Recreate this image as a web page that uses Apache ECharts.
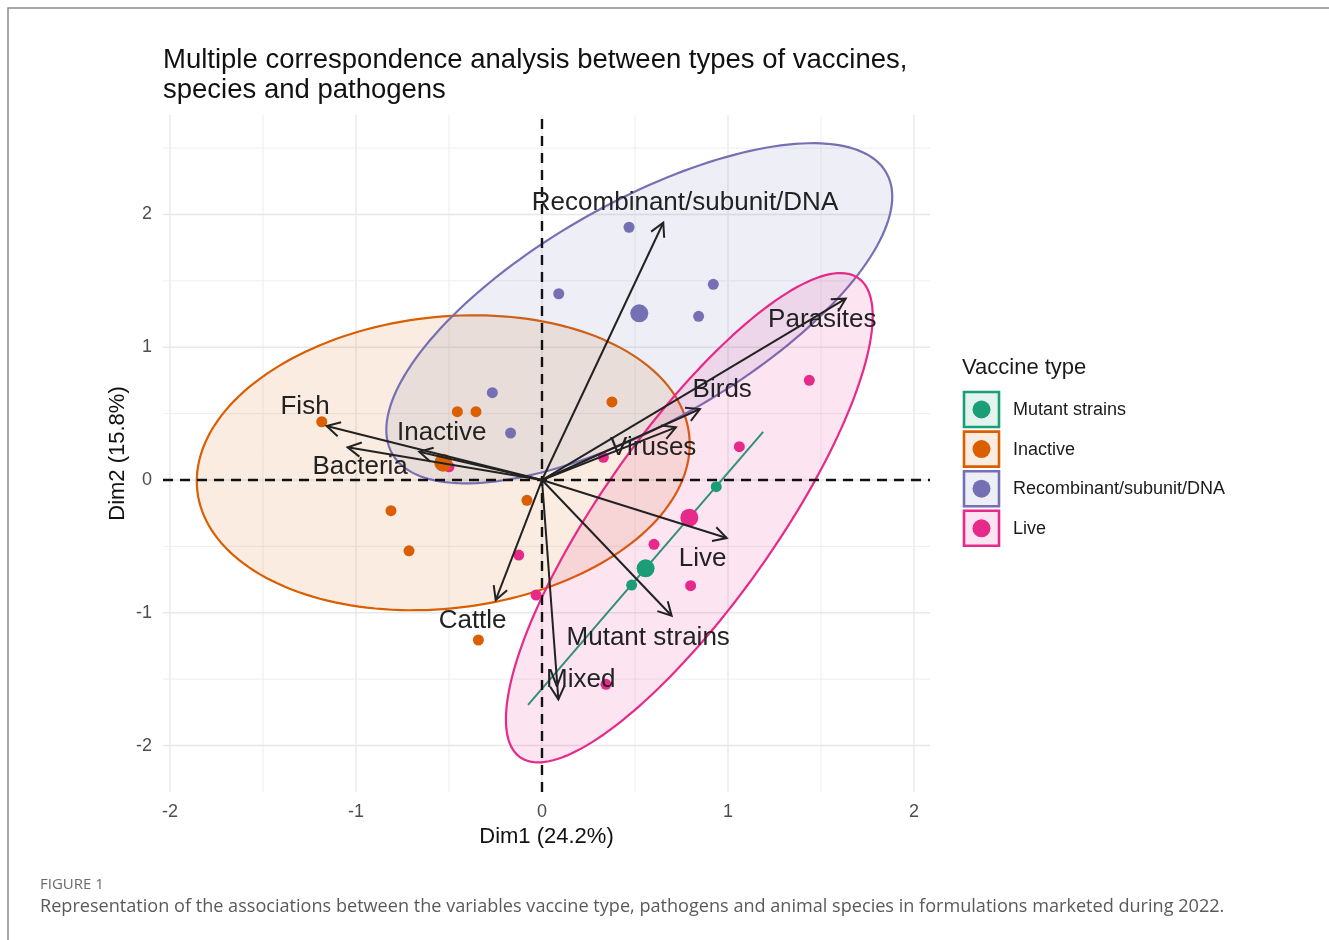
<!DOCTYPE html>
<html><head><meta charset="utf-8">
<script src="https://cdn.jsdelivr.net/npm/echarts@6/dist/echarts.min.js"></script>
<style>html,body{margin:0;padding:0;background:#fff;}#chart{width:1329px;height:940px;}</style>
</head><body><div id="chart"></div>
<script>
// ---------- data ----------
const groups = ['Mutant strains', 'Inactive', 'Recombinant/subunit/DNA', 'Live'];
const groupColors = ['#1b9e77', '#d95f02', '#7570b3', '#e7298a'];
const groupFills = ['rgba(27,158,119,0.12)', 'rgba(217,95,2,0.12)', 'rgba(117,112,179,0.12)', 'rgba(231,41,138,0.12)'];

const mutantPoints = [[0.937, -0.050], [0.482, -0.791]];
const inactivePoints = [[-1.184, 0.439], [-0.455, 0.515], [-0.355, 0.515], [0.376, 0.588], [-0.081, -0.153], [-0.812, -0.231], [-0.715, -0.533], [-0.342, -1.205]];
const recombinantPoints = [[0.468, 1.904], [0.090, 1.403], [0.921, 1.474], [0.842, 1.233], [-0.267, 0.658], [-0.169, 0.354]];
const livePoints = [[1.437, 0.751], [1.061, 0.251], [0.330, 0.171], [0.602, -0.484], [0.799, -0.796], [-0.125, -0.565], [-0.032, -0.866], [0.344, -1.539], [-0.500, 0.100]];
const groupMeans = [[0.557, -0.665], [-0.531, 0.130], [0.523, 1.256], [0.792, -0.284]];

// confidence ellipses (half extents along x / y and correlation)
const ellipseRx = [0.632, 1.325, 1.360, 0.986];
const ellipseRy = [1.028, 1.111, 1.281, 1.843];
const ellipseCorr = [1, 0.125, 0.686, 0.824];

// variable categories (arrows)
const varNames = ['Recombinant/subunit/DNA', 'Parasites', 'Birds', 'Viruses', 'Live', 'Mutant strains', 'Mixed', 'Cattle', 'Bacteria', 'Fish', 'Inactive'];
const varX = [0.652, 1.633, 0.849, 0.720, 0.993, 0.697, 0.088, -0.249, -1.045, -1.158, -0.660];
const varY = [1.938, 1.366, 0.535, 0.397, -0.437, -1.022, -1.652, -0.904, 0.246, 0.407, 0.213];
const labelX = [0.769, 1.507, 0.969, 0.598, 0.864, 0.571, 0.208, -0.373, -0.978, -1.274, -0.539];
const labelY = [2.087, 1.205, 0.678, 0.239, -0.595, -1.192, -1.507, -1.060, 0.096, 0.550, 0.356];

const xTicks = [-2, -1, 0, 1, 2];
const yTicks = [-2, -1, 0, 1, 2];
const xMinor = [-1.5, -0.5, 0.5, 1.5];
const yMinor = [-1.5, -0.5, 0.5, 1.5, 2.5];

const titleText = 'Multiple correspondence analysis between types of vaccines,\nspecies and pathogens';
const xName = 'Dim1 (24.2%)';
const yName = 'Dim2 (15.8%)';
const legendTitle = 'Vaccine type';
const figLabel = 'FIGURE 1';
const captionText = 'Representation of the associations between the variables vaccine type, pathogens and animal species in formulations marketed during 2022.';

// ---------- chart ----------
const X_MIN = -2.0376, X_MAX = 2.086, Y_MIN = -2.35, Y_MAX = 2.7495;
const FONT = '"Liberation Sans", Arial, sans-serif';

const chart = echarts.init(document.getElementById('chart'), null, {renderer: 'canvas'});

const vLineData = xTicks.map(v => [v, 0, 1]).concat(xMinor.map(v => [v, 0, 0]));
const hLineData = yTicks.map(v => [0, v, 1]).concat(yMinor.map(v => [0, v, 0]));

function gridLineV(params, api) {
  const v = api.value(0), major = api.value(2);
  const p1 = api.coord([v, Y_MIN]), p2 = api.coord([v, Y_MAX]);
  return {type: 'line', silent: true, shape: {x1: p1[0], y1: p1[1], x2: p2[0], y2: p2[1]},
    style: {stroke: major ? '#e8e8e8' : '#eeeeee', lineWidth: major ? 1.4 : 1}};
}
function gridLineH(params, api) {
  const v = api.value(1), major = api.value(2);
  const p1 = api.coord([X_MIN, v]), p2 = api.coord([X_MAX, v]);
  return {type: 'line', silent: true, shape: {x1: p1[0], y1: p1[1], x2: p2[0], y2: p2[1]},
    style: {stroke: major ? '#e8e8e8' : '#eeeeee', lineWidth: major ? 1.4 : 1}};
}
function zeroLines(params, api) {
  const a1 = api.coord([X_MIN, 0]), a2 = api.coord([X_MAX, 0]);
  const b1 = api.coord([0, Y_MIN]), b2 = api.coord([0, Y_MAX]);
  return {type: 'group', children: [
    {type: 'line', shape: {x1: a1[0], y1: a1[1], x2: a2[0], y2: a2[1]}, style: {stroke: '#111', lineWidth: 2.4, lineDash: [10, 7]}},
    {type: 'line', shape: {x1: b1[0], y1: b1[1], x2: b2[0], y2: b2[1]}, style: {stroke: '#111', lineWidth: 2.4, lineDash: [10, 7]}}
  ]};
}
function ellipseItem(params, api) {
  const i = api.value(2);
  const cx = api.value(0), cy = api.value(1);
  const rx = ellipseRx[i], ry = ellipseRy[i], r = ellipseCorr[i];
  const ux = rx, uy = r * ry, vy = ry * Math.sqrt(Math.max(0, 1 - r * r));
  if (r >= 1) {
    const p1 = api.coord([cx - ux, cy - uy]), p2 = api.coord([cx + ux, cy + uy]);
    return {type: 'line', shape: {x1: p1[0], y1: p1[1], x2: p2[0], y2: p2[1]},
      style: {stroke: groupColors[i], lineWidth: 2}};
  }
  const pts = [];
  for (let k = 0; k < 180; k++) {
    const t = k / 180 * Math.PI * 2;
    pts.push(api.coord([cx + ux * Math.cos(t), cy + uy * Math.cos(t) + vy * Math.sin(t)]));
  }
  return {type: 'polygon', shape: {points: pts},
    style: {fill: groupFills[i], stroke: groupColors[i], lineWidth: 2.2}};
}
function arrowItem(params, api) {
  const o = api.coord([0, 0]);
  const p = api.coord([api.value(0), api.value(1)]);
  const ang = Math.atan2(p[1] - o[1], p[0] - o[0]);
  const L = 15, A = 0.5;
  const h1 = [p[0] - L * Math.cos(ang - A), p[1] - L * Math.sin(ang - A)];
  const h2 = [p[0] - L * Math.cos(ang + A), p[1] - L * Math.sin(ang + A)];
  return {type: 'group', children: [
    {type: 'line', shape: {x1: o[0], y1: o[1], x2: p[0], y2: p[1]}, style: {stroke: '#222', lineWidth: 2}},
    {type: 'polyline', shape: {points: [h1, p, h2]}, style: {stroke: '#222', lineWidth: 2, fill: null}}
  ]};
}
function labelItem(params, api) {
  const p = api.coord([api.value(0), api.value(1)]);
  return {type: 'text', x: p[0], y: p[1], style: {text: varNames[params.dataIndex], fill: '#222',
    font: '26px ' + FONT, align: 'center', verticalAlign: 'middle'}};
}

const pointSets = [mutantPoints, inactivePoints, recombinantPoints, livePoints];
const scatterSeries = pointSets.map((pts, i) => ({
  type: 'scatter', data: pts, symbolSize: 11, z: 5,
  itemStyle: {color: groupColors[i], opacity: 1}, silent: true
}));
const meanSeries = {
  type: 'scatter', z: 6, silent: true, symbolSize: 18, itemStyle: {opacity: 1},
  data: groupMeans.map((m, i) => ({value: m, itemStyle: {color: groupColors[i], opacity: 1}}))
};

// legend graphic
const legendGraphics = [{type: 'text', left: 962, top: 357, style: {text: legendTitle, font: '22px ' + FONT, fill: '#1a1a1a'}}];
groups.forEach((g, i) => {
  const y0 = 392 + i * 39.6;
  legendGraphics.push({type: 'rect', shape: {x: 964, y: y0, width: 35, height: 35},
    style: {fill: groupFills[i], stroke: groupColors[i], lineWidth: 2.6}});
  legendGraphics.push({type: 'circle', shape: {cx: 981.5, cy: y0 + 17.5, r: 9}, style: {fill: groupColors[i]}});
  legendGraphics.push({type: 'text', x: 1013, y: y0 + 18, style: {text: g, font: '18px ' + FONT, fill: '#1a1a1a', verticalAlign: 'middle'}});
});

const option = {
  backgroundColor: '#fff',
  animation: false,
  title: {text: titleText, left: 158, top: 40,
    textStyle: {fontFamily: FONT, fontSize: 27.5, fontWeight: 'normal', color: '#111', lineHeight: 30}},
  grid: {left: 163, right: 399, top: 115, bottom: 148, containLabel: false},
  xAxis: {type: 'value', min: X_MIN, max: X_MAX,
    name: xName, nameLocation: 'middle', nameGap: 32,
    nameTextStyle: {fontFamily: FONT, fontSize: 22, color: '#111'},
    axisLine: {show: false}, axisTick: {show: false}, splitLine: {show: false},
    axisLabel: {customValues: xTicks, fontFamily: FONT, fontSize: 18, color: '#4d4d4d', margin: 11}},
  yAxis: {type: 'value', min: Y_MIN, max: Y_MAX,
    name: yName, nameLocation: 'middle', nameGap: 34, nameMoveOverlap: false,
    nameTextStyle: {fontFamily: FONT, fontSize: 22, color: '#111'},
    axisLine: {show: false}, axisTick: {show: false}, splitLine: {show: false},
    axisLabel: {customValues: yTicks, fontFamily: FONT, fontSize: 18, color: '#4d4d4d', margin: 11}},
  graphic: [
    {type: 'rect', shape: {x: 8, y: 8, width: 1400, height: 1000}, style: {fill: null, stroke: '#8a8a8a', lineWidth: 1.5}, silent: true},
    {type: 'text', left: 40, top: 877, style: {text: figLabel, font: '15px "Open Sans", sans-serif', fill: '#6b6b6b'}},
    {type: 'text', left: 40, top: 898, style: {text: captionText, font: '18.1px "Open Sans", sans-serif', fill: '#5a5a5a'}}
  ].concat(legendGraphics),
  series: [
    {type: 'custom', renderItem: gridLineV, data: vLineData, z: 1, silent: true, clip: false},
    {type: 'custom', renderItem: gridLineH, data: hLineData, z: 1, silent: true, clip: false},
    {type: 'custom', renderItem: ellipseItem, data: groupMeans.map((m, i) => [m[0], m[1], i]), z: 2, silent: true},
    {type: 'custom', renderItem: zeroLines, data: [[0, 0]], z: 3, silent: true},
    ...scatterSeries,
    meanSeries,
    {type: 'custom', renderItem: arrowItem, data: varX.map((x, i) => [x, varY[i]]), z: 7, silent: true},
    {type: 'custom', renderItem: labelItem, data: labelX.map((x, i) => [x, labelY[i]]), z: 8, silent: true}
  ]
};
chart.setOption(option);
</script>
</body></html>
